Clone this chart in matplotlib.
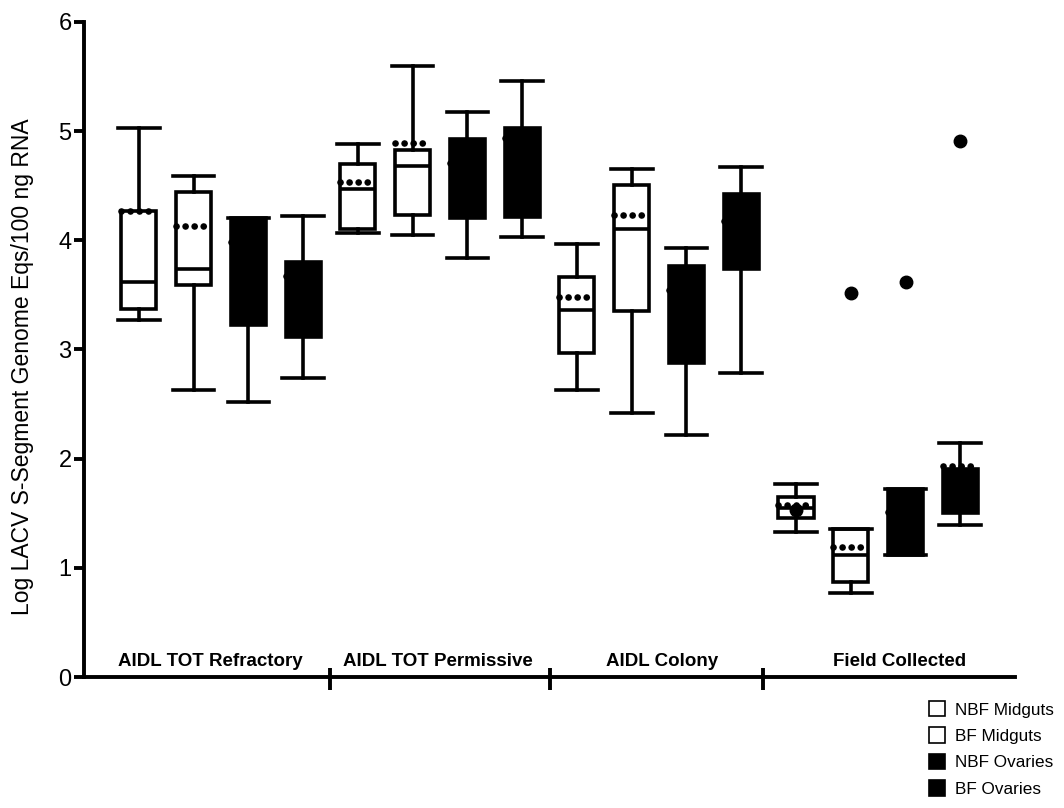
import matplotlib
matplotlib.use("Agg")
import matplotlib.pyplot as plt
import matplotlib.patches as mpatches

plt.rcParams["font.family"] = ["Liberation Sans", "DejaVu Sans"]

# Data (log10 genome eq / 100 ng RNA)
groups = ["AIDL TOT Refractory", "AIDL TOT Permissive", "AIDL Colony", "Field Collected"]
series = ["NBF Midguts", "BF Midguts", "NBF Ovaries", "BF Ovaries"]
series_fill = ["white", "white", "black", "black"]

whislo = [3.27, 2.63, 2.52, 2.74,  4.07, 4.05, 3.84, 4.03,  2.63, 2.42, 2.22, 2.78,  1.33, 0.77, 1.12, 1.39]
q1     = [3.37, 3.59, 3.22, 3.11,  4.10, 4.23, 4.20, 4.21,  2.97, 3.35, 2.88, 3.74,  1.46, 0.87, 1.12, 1.50]
med    = [3.62, 3.74, 3.70, 3.45,  4.47, 4.68, 4.60, 4.60,  3.36, 4.10, 3.30, 4.10,  1.55, 1.12, 1.40, 1.70]
q3     = [4.27, 4.44, 4.20, 3.80,  4.70, 4.83, 4.93, 5.03,  3.66, 4.51, 3.76, 4.42,  1.65, 1.36, 1.72, 1.91]
whishi = [5.03, 4.59, 4.20, 4.22,  4.88, 5.60, 5.17, 5.46,  3.97, 4.65, 3.93, 4.67,  1.77, 1.36, 1.72, 2.14]
means  = [4.27, 4.13, 3.98, 3.67,  4.53, 4.89, 4.71, 4.94,  3.48, 4.23, 3.54, 4.18,  1.58, 1.19, 1.51, 1.93]
fliers = [[], [], [], [],  [], [], [], [],  [], [], [], [],  [1.53], [3.52], [3.62], [4.91]]

separators = [4.5, 8.5, 12.4]
group_label_x = [2.3, 6.46, 10.56, 14.9]

stats = []
for i in range(len(med)):
    stats.append(dict(whislo=whislo[i], q1=q1[i], med=med[i], q3=q3[i],
                      whishi=whishi[i], mean=means[i], fliers=fliers[i]))
positions = list(range(1, len(stats) + 1))

fig = plt.figure(figsize=(10.64, 8.08), dpi=100)
ax = fig.add_axes([0.079, 0.162, 0.875, 0.811])

LW = 2.6
bp = ax.bxp(stats, positions=positions, widths=0.64, patch_artist=True,
            showmeans=True, meanline=True,
            boxprops=dict(edgecolor="black", linewidth=LW),
            whiskerprops=dict(color="black", linewidth=LW),
            capprops=dict(color="black", linewidth=LW),
            medianprops=dict(color="black", linewidth=LW),
            meanprops=dict(color="black", linewidth=4.8, linestyle=(0, (0.01, 1.35)),
                           dash_capstyle="round"),
            flierprops=dict(marker="o", markerfacecolor="black",
                            markeredgecolor="black", markersize=9))
for i, box in enumerate(bp["boxes"]):
    box.set_facecolor(series_fill[i % 4])
for cap in bp["caps"]:
    x = cap.get_xdata()
    c = (x[0] + x[1]) / 2
    cap.set_xdata([c - 0.38, c + 0.38])

ax.set_xlim(0, 17)
ax.set_ylim(0, 6)
ax.set_xticks([])
ax.set_yticks(range(0, 7))
ax.tick_params(axis="y", direction="out", length=7, width=2.8, labelsize=17, pad=2)
for s in ["top", "right"]:
    ax.spines[s].set_visible(False)
for s in ["left", "bottom"]:
    ax.spines[s].set_linewidth(2.8)

ax.vlines(separators, -0.12, 0.08, colors="black", linewidth=2.8, clip_on=False)
for x, g in zip(group_label_x, groups):
    ax.text(x, 0.14, g, ha="center", va="center", fontsize=13.5, fontweight="bold")

ax.set_ylabel("Log LACV S-Segment Genome Eqs/100 ng RNA", fontsize=16.5)
ax.yaxis.set_label_coords(-0.054, 0.473)

handles = [mpatches.Patch(facecolor=f, edgecolor="black", linewidth=1.2)
           for f in series_fill]
fig.legend(handles, series, loc="upper right", bbox_to_anchor=(1.0, 0.145),
           frameon=False, fontsize=12.3, handlelength=0.95, handleheight=1.0,
           labelspacing=0.58, handletextpad=0.55, borderaxespad=0.2)

fig.savefig("out.png", dpi=100)
